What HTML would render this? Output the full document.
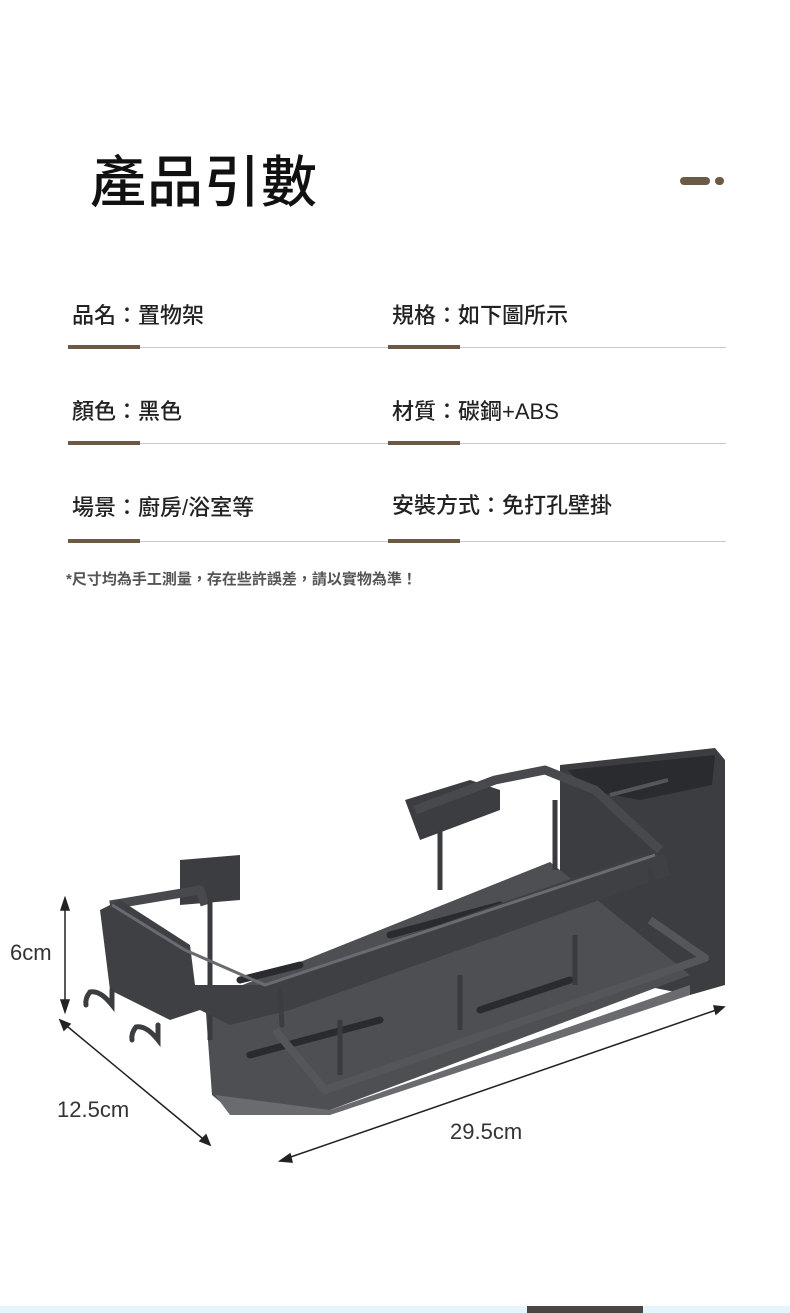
<!DOCTYPE html>
<html><head><meta charset="utf-8"><style>
body{margin:0;width:790px;height:1313px;background:#fff;position:relative;overflow:hidden;font-family:"Liberation Sans","Noto Sans CJK TC",sans-serif;color:#222}
.t{position:absolute;font-size:22px;white-space:nowrap;font-weight:500}
.ln{position:absolute;height:1px;background:#c8c8c8;left:68px;width:658px}
.br{position:absolute;height:4px;background:#6b5a45;width:72px}
</style></head><body>
<div style="position:absolute;left:90px;top:138px;font-size:56px;letter-spacing:1px;color:#111;font-weight:500">產品引數</div>
<div style="position:absolute;left:680px;top:177px;width:30px;height:8px;border-radius:4px;background:#6b5a45"></div>
<div style="position:absolute;left:715px;top:177px;width:9px;height:8px;border-radius:4px;background:#6b5a45"></div>

<div class="t" style="left:72px;top:298px">品名：置物架</div>
<div class="t" style="left:392px;top:298px">規格：如下圖所示</div>
<div class="ln" style="top:347px"></div><div class="br" style="left:68px;top:345px"></div><div class="br" style="left:388px;top:345px"></div>
<div class="t" style="left:72px;top:394px">顏色：黑色</div>
<div class="t" style="left:392px;top:394px">材質：碳鋼+ABS</div>
<div class="ln" style="top:443px"></div><div class="br" style="left:68px;top:441px"></div><div class="br" style="left:388px;top:441px"></div>
<div class="t" style="left:72px;top:490px">場景：廚房/浴室等</div>
<div class="t" style="left:392px;top:488px">安裝方式：免打孔壁掛</div>
<div class="ln" style="top:541px"></div><div class="br" style="left:68px;top:539px"></div><div class="br" style="left:388px;top:539px"></div>
<div style="position:absolute;left:66px;top:568px;font-size:15px;font-weight:bold;color:#555">*尺寸均為手工測量，存在些許誤差，請以實物為準！</div>

<svg width="790" height="1313" style="position:absolute;left:0;top:0">
<polygon points="560,765 715,748 725,760 725,985 690,995 640,985 560,960" fill="#3c3d41"/>
<polygon points="568,770 715,755 712,785 640,800 585,790" fill="#2a2b2e"/>
<line x1="610" y1="795" x2="668" y2="780" stroke="#55565a" stroke-width="4"/>
<polygon points="205,1000 550,862 690,975 330,1110 230,1110 212,1095" fill="#4e4f53"/>
<polygon points="215,1095 330,1110 690,985 690,995 330,1115 230,1115" fill="#6a6b6f"/>
<g stroke="#2a2b2e" stroke-width="7" stroke-linecap="round">
<line x1="390" y1="935" x2="500" y2="905"/><line x1="250" y1="1055" x2="380" y2="1020"/>
<line x1="480" y1="1010" x2="570" y2="980"/><line x1="240" y1="980" x2="300" y2="965"/>
</g>
<polygon points="180,860 240,855 240,900 180,905" fill="#3c3d41"/>
<polygon points="405,800 470,780 500,790 500,810 420,840" fill="#3c3d41"/>
<g fill="none" stroke="#48494d" stroke-width="9" stroke-linejoin="round">
<polyline points="415,810 495,780 545,770 595,790 660,850"/>
<polyline points="110,905 200,890 205,905"/>
</g>
<g stroke="#3a3b3e" stroke-width="5">
<line x1="210" y1="900" x2="210" y2="1040"/><line x1="340" y1="1020" x2="340" y2="1075"/>
<line x1="460" y1="975" x2="460" y2="1030"/><line x1="575" y1="935" x2="575" y2="985"/>
<line x1="440" y1="830" x2="440" y2="890"/><line x1="555" y1="800" x2="555" y2="870"/>
</g>
<polygon points="100,910 120,900 190,945 195,985 265,985 640,855 665,855 670,875 290,1010 230,1025 200,1010 170,1020 110,990" fill="#3f4044"/>
<polyline points="112,905 185,950 265,985 655,855" fill="none" stroke="#6a6b70" stroke-width="3"/>
<polyline points="275,1030 325,1090 705,958 650,920" fill="none" stroke="#55565a" stroke-width="8" stroke-linejoin="round"/>
<g fill="none" stroke="#3c3d41" stroke-width="5" stroke-linecap="round">
<path d="M112,990 L112,1005 Q100,990 90,992 Q85,998 86,1005"/>
<path d="M158,1025 L158,1040 Q146,1025 136,1027 Q131,1033 132,1040"/>
<path d="M280,990 L282,1025"/><path d="M650,870 L655,905"/>
</g>
<g stroke="#222" stroke-width="1.5" fill="#222">
<line x1="65" y1="905" x2="65" y2="1005"/>
<polygon points="61,910 65,898 69,910"/><polygon points="61,1000 65,1012 69,1000"/>
<line x1="62" y1="1022" x2="208" y2="1143"/>
<polygon points="60,1020 70,1024 64,1030"/><polygon points="210,1145 200,1141 206,1135"/>
<line x1="282" y1="1160" x2="722" y2="1008"/>
<polygon points="280,1161 290,1154 292,1162"/><polygon points="724,1007 714,1006 716,1014"/>
</g>
<g font-family="Liberation Sans,sans-serif" font-size="22" fill="#333">
<text x="10" y="960">6cm</text><text x="57" y="1117">12.5cm</text><text x="450" y="1139">29.5cm</text>
</g>
</svg>
<div style="position:absolute;left:0;top:1306px;width:790px;height:7px;background:#e6f4fb"></div>
<div style="position:absolute;left:527px;top:1306px;width:116px;height:7px;background:#4a4644"></div>
</body></html>
